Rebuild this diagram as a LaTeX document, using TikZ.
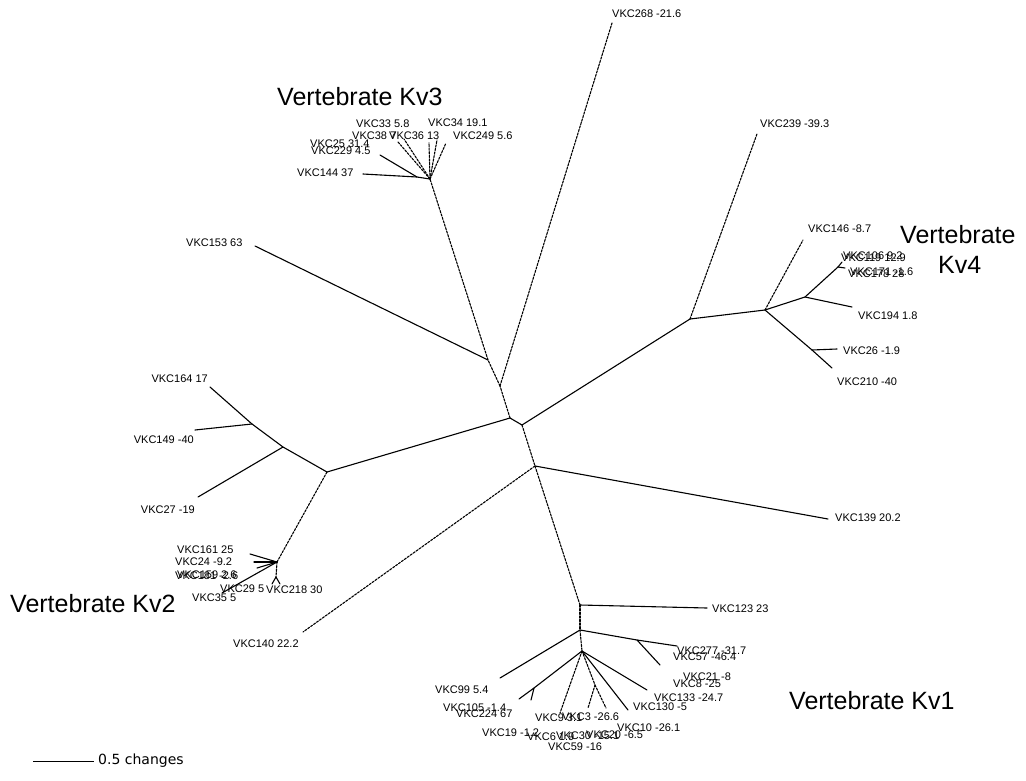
\documentclass[tikz,border=0pt]{standalone}
\usepackage{fontspec}
\setmainfont{Liberation Sans}
\newfontfamily\barfont{DejaVu Sans}
\begin{document}
\begin{tikzpicture}[x=1pt,y=-1pt,
  br/.style={line width=1.1pt,line cap=round,line join=round},
  brd/.style={br,dash pattern=on 2.2pt off 1.4pt},
  lab/.style={anchor=west,inner sep=0pt,font=\fontsize{11}{11}\selectfont},
  labr/.style={lab,anchor=east},
  clade/.style={anchor=west,inner sep=0pt,font=\fontsize{25}{25}\selectfont}]
\useasboundingbox (0,0) rectangle (1026,780);

% ---- internal nodes ----
\coordinate (n1) at (510,418);
\coordinate (n2) at (522,425);
\coordinate (n3) at (535,466);
\coordinate (n6) at (500,386);
\coordinate (n4) at (488,360);
\coordinate (n5) at (430,179);
\coordinate (s1) at (417,177);
\coordinate (k4a) at (690,319);
\coordinate (k4b) at (765,310);
\coordinate (k4c) at (805,297);
\coordinate (k4d) at (838,267);
\coordinate (k4e) at (812,350);
\coordinate (k2a) at (327,472);
\coordinate (k2b) at (283,447);
\coordinate (k2d) at (252,424);
\coordinate (k2c) at (277,562);
\coordinate (k2e) at (276,577);
\coordinate (n7) at (580,605);
\coordinate (n8) at (580,630);
\coordinate (n9) at (637,640);
\coordinate (n10) at (582,651);
\coordinate (sA) at (534,688);
\coordinate (sB) at (595,685);

% ---- leaves ----
\coordinate (L268) at (612,23);
\coordinate (L239) at (757,134);
\coordinate (L153) at (255,246);
\coordinate (L144) at (363,174);
\coordinate (L229) at (380,155);
\coordinate (L38) at (398,142);
\coordinate (L33) at (404,139);
\coordinate (L36) at (429,143);
\coordinate (L34) at (437,140);
\coordinate (L249) at (446,143);
\coordinate (L146) at (803,240);
\coordinate (L106) at (842,262);
\coordinate (L178) at (845,268);
\coordinate (L194) at (852,307);
\coordinate (L26) at (837,349);
\coordinate (L210) at (832,368);
\coordinate (L139) at (828,519);
\coordinate (L140) at (303,632);
\coordinate (L123) at (707,608);
\coordinate (L99) at (500,678);
\coordinate (L277) at (677,646);
\coordinate (L21) at (660,665);
\coordinate (LA1) at (519,699);
\coordinate (LA2) at (531,700);
\coordinate (LB) at (560,713);
\coordinate (LC1) at (588,708);
\coordinate (LC2) at (606,708);
\coordinate (LD) at (628,710);
\coordinate (LE) at (647,690);
\coordinate (L164) at (210,387);
\coordinate (L149) at (195,430);
\coordinate (L27) at (198,497);
\coordinate (L161) at (250,554);
\coordinate (L24) at (254,562);
\coordinate (L181) at (257,568);
\coordinate (L35) at (222,593);
\coordinate (L29) at (272,584);
\coordinate (L218) at (280,584);

% ---- backbone ----
\draw[br] (n1) -- (n2);
\draw[br] (n1) -- (k2a);
\draw[brd] (n1) -- (n6);
\draw[brd] (n6) -- (n4);
\draw[brd] (n6) -- (L268);
\draw[br] (n4) -- (L153);
\draw[brd] (n4) -- (n5);
\draw[brd] (n2) -- (n3);
\draw[br] (n2) -- (k4a);

% ---- Kv3 clade ----
\draw[br] (n5) -- (s1) -- (L144);
\draw[br] (s1) -- (L229);
\draw[brd] (n5) -- (L38);
\draw[brd] (n5) -- (L33);
\draw[brd] (n5) -- (L36);
\draw[brd] (n5) -- (L34);
\draw[brd] (n5) -- (L249);

% ---- Kv4 clade ----
\draw[brd] (k4a) -- (L239);
\draw[br] (k4a) -- (k4b);
\draw[brd] (k4b) -- (L146);
\draw[br] (k4b) -- (k4c) -- (L194);
\draw[br] (k4c) -- (k4d);
\draw[br] (k4d) -- (L106);
\draw[br] (k4d) -- (L178);
\draw[br] (k4b) -- (k4e) -- (L210);
\draw[br] (k4e) -- (L26);

% ---- lower centre and Kv1 clade ----
\draw[br] (n3) -- (L139);
\draw[brd] (n3) -- (L140);
\draw[brd] (n3) -- (n7);
\draw[br] (n7) -- (L123);
\draw[brd] (n7) -- (n8);
\draw[br] (n8) -- (L99);
\draw[br] (n8) -- (n9) -- (L277);
\draw[br] (n9) -- (L21);
\draw[brd] (n8) -- (n10);
\draw[br] (n10) -- (sA) -- (LA1);
\draw[br] (sA) -- (LA2);
\draw[brd] (n10) -- (LB);
\draw[brd] (n10) -- (sB) -- (LC1);
\draw[brd] (sB) -- (LC2);
\draw[br] (n10) -- (LD);
\draw[br] (n10) -- (LE);

% ---- Kv2 clade ----
\draw[br] (k2a) -- (k2b) -- (k2d) -- (L164);
\draw[br] (k2d) -- (L149);
\draw[br] (k2b) -- (L27);
\draw[brd] (k2a) -- (k2c);
\draw[br] (k2c) -- (L161);
\draw[br] (k2c) -- (L24);
\draw[br] (k2c) -- (L181);
\draw[br] (k2c) -- (L35);
\draw[brd] (k2c) -- (k2e);
\draw[br] (k2e) -- (L29);
\draw[br] (k2e) -- (L218);

% ---- leaf labels ----
\node[lab] (t268) at (612,14) {VKC268 -21.6};
\node[lab] (t239) at (760,124) {VKC239 -39.3};
\node[lab] (t153) at (186,243) {VKC153 63};
\node[lab] (t144) at (297,173) {VKC144 37};
\node[lab] (t25)  at (310,144) {VKC25 31.4};
\node[lab] (t229) at (311,151) {VKC229 4.5};
\node[lab] (t33)  at (356,124) {VKC33 5.8};
\node[lab] (t34)  at (428,123) {VKC34 19.1};
\node[lab] (t38)  at (352,136) {VKC38 7};
\node[lab] (t36)  at (389,136) {VKC36 13};
\node[lab] (t249) at (453,136) {VKC249 5.6};
\node[lab] (t146) at (808,229) {VKC146 -8.7};
\node[lab] (t106) at (843,256) {VKC106 9.2};
\node[lab] (t119) at (841,258) {VKC119 12.9};
\node[lab] (t178) at (848,274) {VKC178 28};
\node[lab] (t171) at (850,272) {VKC171 -1.6};
\node[lab] (t194) at (858,316) {VKC194 1.8};
\node[lab] (t26)  at (843,351) {VKC26 -1.9};
\node[lab] (t210) at (837,382) {VKC210 -40};
\node[lab] (t139) at (835,518) {VKC139 20.2};
\node[lab] (t140) at (233,644) {VKC140 22.2};
\node[lab] (t123) at (712,609) {VKC123 23};
\node[lab] (t277) at (677,651) {VKC277 -31.7};
\node[lab] (t57)  at (673,657) {VKC57 -46.4};
\node[lab] (t21)  at (683,677) {VKC21 -8};
\node[lab] (t8)   at (673,684) {VKC8 -25};
\node[lab] (t133) at (654,698) {VKC133 -24.7};
\node[lab] (t130) at (633,707) {VKC130 -5};
\node[lab] (t99)  at (435,690) {VKC99 5.4};
\node[lab] (t105) at (443,708) {VKC105 -1.4};
\node[lab] (t224) at (456,714) {VKC224 67};
\node[lab] (t9)   at (535,718) {VKC9 3.1};
\node[lab] (t3)   at (562,717) {VKC3 -26.6};
\node[lab] (t10)  at (617,728) {VKC10 -26.1};
\node[lab] (t19)  at (482,733) {VKC19 -1.2};
\node[lab] (t6)   at (527,737) {VKC6 1.9};
\node[lab] (t30)  at (556,736) {VKC30 -15.1};
\node[lab] (t20)  at (586,735) {VKC20 -6.5};
\node[lab] (t59)  at (548,747) {VKC59 -16};
\node[labr] (t164) at (208,379) {VKC164 17};
\node[labr] (t149) at (194,440) {VKC149 -40};
\node[labr] (t27)  at (195,510) {VKC27 -19};
\node[lab] (t161) at (177,550) {VKC161 25};
\node[lab] (t24)  at (175,562) {VKC24 -9.2};
\node[lab] (t181) at (175,576) {VKC181 -2.6};
\node[lab] (t159) at (177,575) {VKC159 2.6};
\node[lab] (t35)  at (192,598) {VKC35 5};
\node[lab] (t29)  at (220,589) {VKC29 5};
\node[lab] (t218) at (266,590) {VKC218 30};

% ---- clade titles ----
\node[clade] (cKv3) at (277,97) {Vertebrate Kv3};
\node[clade] (cKv4a) at (900,235) {Vertebrate};
\node[clade] (cKv4b) at (938,265) {Kv4};
\node[clade] (cKv2) at (10,604) {Vertebrate Kv2};
\node[clade] (cKv1) at (789,701) {Vertebrate Kv1};

% ---- scale bar ----
\coordinate (sb1) at (33,761);
\coordinate (sb2) at (94,761);
\draw[line width=0.8pt] (sb1) -- (sb2);
\node[anchor=west,inner sep=0pt,font=\barfont\fontsize{14}{14}\selectfont] (sbl) at (98,761) {0.5 changes};
\end{tikzpicture}
\end{document}
